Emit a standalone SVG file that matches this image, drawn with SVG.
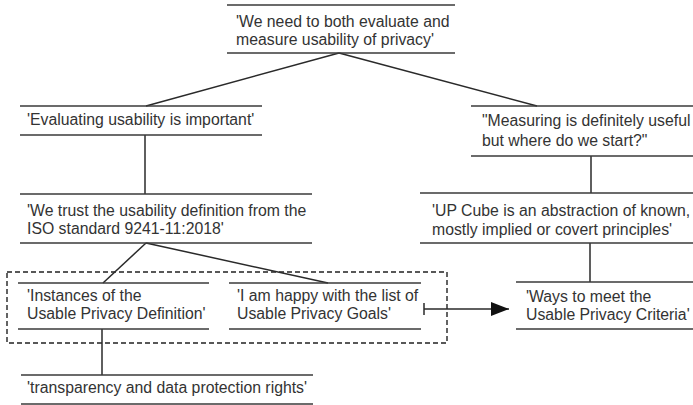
<svg xmlns="http://www.w3.org/2000/svg" width="693" height="405" viewBox="0 0 693 405">
<style>
.n line{stroke:#3a3a3a;stroke-width:1.6}
.n text{font-family:"Liberation Sans",Arial,sans-serif;font-size:15.8px;fill:#333}
.c line{stroke:#2a2a2a;stroke-width:1.5;fill:none}
</style>
<defs>
<marker id="ah" markerWidth="19" markerHeight="14" refX="18" refY="7" orient="auto" markerUnits="userSpaceOnUse">
<path d="M0,0 L18,7 L0,14 Z" fill="#111"/>
</marker>
</defs>
<rect x="7" y="272" width="440" height="71" fill="none" stroke="#222" stroke-width="1.4" stroke-dasharray="5,3"/>
<g class="c">
<line x1="339" y1="53" x2="146" y2="106"/>
<line x1="339" y1="53" x2="537" y2="106"/>
<line x1="145" y1="135" x2="145" y2="194"/>
<line x1="146" y1="243" x2="103" y2="283"/>
<line x1="146" y1="243" x2="328" y2="283"/>
<line x1="102" y1="329" x2="102" y2="375"/>
<line x1="591" y1="156" x2="591" y2="193"/>
<line x1="590" y1="243" x2="590" y2="282"/>
<line x1="424" y1="309" x2="509" y2="309" marker-end="url(#ah)"/>
<line x1="424" y1="303" x2="424" y2="315"/>
</g>
<g id="n1" class="n">
<line x1="227" y1="5" x2="455" y2="5"/>
<text x="236" y="27">'We need to both evaluate and</text>
<text x="236" y="45">measure usability of privacy'</text>
<line x1="227" y1="53" x2="455" y2="53"/>
</g>
<g id="n2" class="n">
<line x1="20" y1="106" x2="262" y2="106"/>
<text x="27" y="125">'Evaluating usability is important'</text>
<line x1="20" y1="135" x2="262" y2="135"/>
</g>
<g id="n3" class="n">
<line x1="20" y1="194" x2="312" y2="194"/>
<text x="27" y="216">'We trust the usability definition from the</text>
<text x="27" y="234">ISO standard 9241-11:2018'</text>
<line x1="20" y1="243" x2="312" y2="243"/>
</g>
<g id="n4" class="n">
<line x1="18" y1="283" x2="209" y2="283"/>
<text x="27" y="301">'Instances of the</text>
<text x="27" y="319">Usable Privacy Definition'</text>
<line x1="18" y1="329" x2="209" y2="329"/>
</g>
<g id="n5" class="n">
<line x1="229" y1="283" x2="421" y2="283"/>
<text x="237" y="301">'I am happy with the list of</text>
<text x="237" y="319">Usable Privacy Goals'</text>
<line x1="229" y1="329" x2="421" y2="329"/>
</g>
<g id="n6" class="n">
<line x1="21" y1="375" x2="313" y2="375"/>
<text x="27" y="393">'transparency and data protection rights'</text>
<line x1="21" y1="404" x2="313" y2="404"/>
</g>
<g id="n7" class="n">
<line x1="471" y1="106" x2="693" y2="106"/>
<text x="482" y="126">"Measuring is definitely useful</text>
<text x="482" y="146">but where do we start?"</text>
<line x1="471" y1="156" x2="693" y2="156"/>
</g>
<g id="n8" class="n">
<line x1="420" y1="193" x2="693" y2="193"/>
<text x="432" y="216">'UP Cube is an abstraction of known,</text>
<text x="432" y="235">mostly implied or covert principles'</text>
<line x1="420" y1="243" x2="693" y2="243"/>
</g>
<g id="n9" class="n">
<line x1="516" y1="282" x2="693" y2="282"/>
<text x="526" y="302">'Ways to meet the</text>
<text x="526" y="320">Usable Privacy Criteria'</text>
<line x1="516" y1="329" x2="693" y2="329"/>
</g>
</svg>
